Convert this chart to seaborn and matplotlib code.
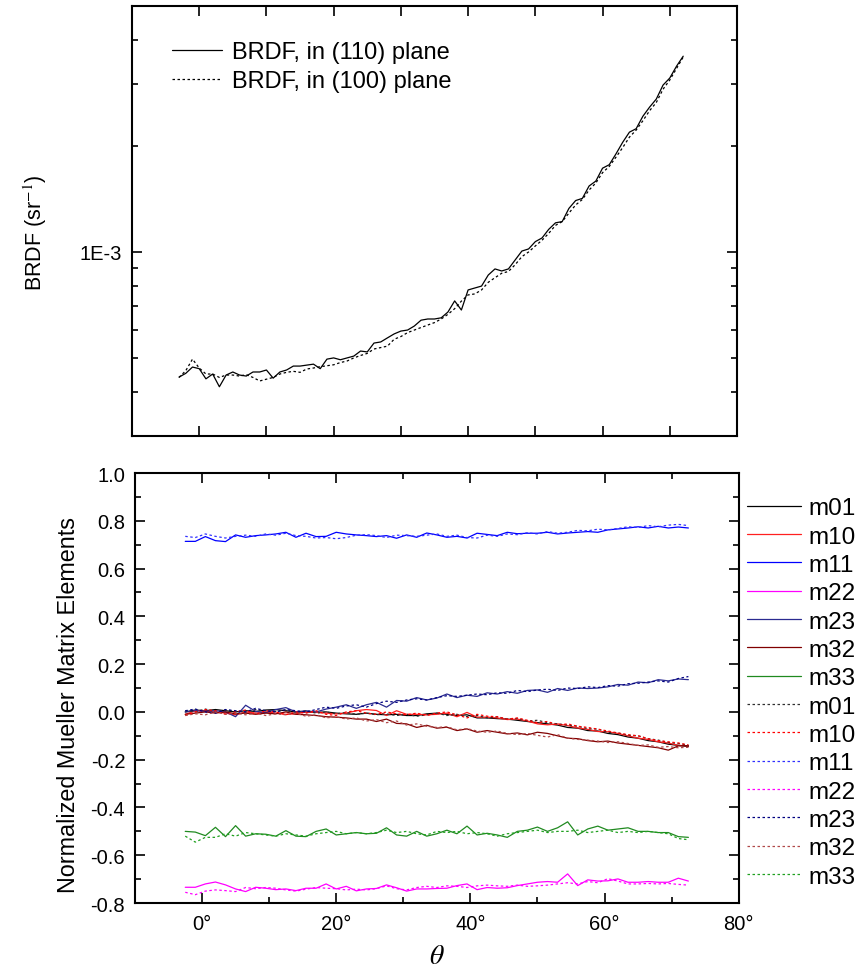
import numpy as np
import matplotlib
matplotlib.use("Agg")
import matplotlib.pyplot as plt
import matplotlib.ticker as mticker
import seaborn as sns

# BRDF (top panel), angle in degrees, values in units of 1E-3 sr^-1
theta_brdf = np.arange(-3, 73, 1)
brdf_110 = np.array([
    0.441, 0.452, 0.471, 0.466, 0.436, 0.450, 0.414, 0.447, 0.456, 0.447,
    0.444, 0.456, 0.456, 0.462, 0.438, 0.456, 0.462, 0.474, 0.474, 0.477,
    0.480, 0.466, 0.496, 0.500, 0.494, 0.500, 0.506, 0.523, 0.520, 0.551,
    0.555, 0.570, 0.585, 0.596, 0.600, 0.616, 0.640, 0.645, 0.645, 0.650,
    0.675, 0.726, 0.684, 0.780, 0.790, 0.800, 0.860, 0.895, 0.883, 0.895,
    0.949, 1.006, 1.020, 1.070, 1.096, 1.160, 1.210, 1.220, 1.330, 1.400,
    1.420, 1.540, 1.590, 1.730, 1.770, 1.900, 2.050, 2.190, 2.240, 2.430,
    2.580, 2.720, 2.980, 3.120, 3.370, 3.600]) * 1e-3
brdf_100 = np.array([
    0.440, 0.460, 0.496, 0.468, 0.450, 0.450, 0.440, 0.447, 0.447, 0.444,
    0.448, 0.440, 0.430, 0.435, 0.440, 0.450, 0.455, 0.458, 0.455, 0.465,
    0.468, 0.472, 0.475, 0.478, 0.485, 0.490, 0.500, 0.508, 0.515, 0.530,
    0.535, 0.540, 0.565, 0.575, 0.590, 0.600, 0.610, 0.620, 0.630, 0.645,
    0.665, 0.690, 0.725, 0.755, 0.760, 0.780, 0.820, 0.845, 0.870, 0.880,
    0.920, 0.970, 1.000, 1.040, 1.080, 1.130, 1.190, 1.220, 1.290, 1.360,
    1.410, 1.500, 1.570, 1.680, 1.750, 1.860, 1.980, 2.120, 2.220, 2.360,
    2.520, 2.660, 2.900, 3.080, 3.320, 3.580]) * 1e-3

# Normalized Mueller matrix elements (bottom panel)
theta_mm = np.arange(-2.5, 73.0, 1.5)
elements = ["m01", "m10", "m11", "m22", "m23", "m32", "m33"]

# solid lines: (110) plane
m01_a = [0.0, 0.008, 0.005, 0.01, 0.005, 0.0, 0.005, 0.002, 0.008, 0.01,
         0.005, 0.0, 0.0, -0.002, 0.0, -0.005, -0.008, -0.01, -0.005, -0.01,
         -0.012, -0.01, -0.015, -0.015, -0.008, -0.005, -0.01, -0.015, -0.012, -0.025,
         -0.025, -0.028, -0.03, -0.035, -0.04, -0.045, -0.05, -0.055, -0.065, -0.068,
         -0.078, -0.08, -0.09, -0.095, -0.105, -0.11, -0.12, -0.125, -0.135, -0.14, -0.145]
m10_a = [-0.01, 0.005, 0.004, 0.0, -0.005, -0.012, 0.0, -0.005, 0.0, -0.005,
         -0.01, -0.008, 0.0, -0.002, -0.005, -0.008, -0.005, 0.005, 0.01, 0.006,
         -0.015, 0.005, -0.01, -0.01, -0.012, -0.01, -0.005, -0.02, -0.002, -0.022,
         -0.022, -0.025, -0.032, -0.03, -0.038, -0.05, -0.054, -0.05, -0.057, -0.067,
         -0.073, -0.082, -0.083, -0.09, -0.1, -0.11, -0.115, -0.125, -0.13, -0.14, -0.142]
m11_a = [0.714, 0.714, 0.734, 0.717, 0.713, 0.741, 0.731, 0.738, 0.741, 0.745,
         0.752, 0.731, 0.748, 0.734, 0.735, 0.752, 0.745, 0.741, 0.738, 0.734,
         0.738, 0.727, 0.741, 0.731, 0.749, 0.741, 0.731, 0.735, 0.728, 0.748,
         0.743, 0.738, 0.752, 0.746, 0.748, 0.748, 0.752, 0.745, 0.749, 0.752,
         0.755, 0.752, 0.762, 0.766, 0.770, 0.775, 0.770, 0.777, 0.770, 0.774, 0.770]
m22_a = [-0.734, -0.734, -0.72, -0.712, -0.724, -0.741, -0.752, -0.734, -0.738, -0.744,
         -0.741, -0.748, -0.738, -0.738, -0.72, -0.741, -0.73, -0.749, -0.741, -0.739,
         -0.724, -0.736, -0.75, -0.741, -0.741, -0.739, -0.738, -0.727, -0.72, -0.744,
         -0.735, -0.738, -0.736, -0.727, -0.72, -0.713, -0.71, -0.713, -0.678, -0.727,
         -0.703, -0.708, -0.707, -0.699, -0.713, -0.713, -0.71, -0.713, -0.713, -0.696, -0.708]
m23_a = [0.0, 0.005, 0.003, 0.005, 0.0, -0.02, 0.028, 0.002, -0.003, 0.01,
         0.018, 0.0, 0.005, 0.0, 0.012, 0.02, 0.03, 0.015, 0.03, 0.04,
         0.02, 0.048, 0.045, 0.06, 0.05, 0.058, 0.075, 0.06, 0.07, 0.065,
         0.08, 0.075, 0.085, 0.078, 0.09, 0.092, 0.082, 0.098, 0.09, 0.1,
         0.098, 0.1, 0.105, 0.115, 0.112, 0.125, 0.122, 0.135, 0.13, 0.138, 0.135]
m32_a = [-0.01, -0.005, 0.0, -0.005, 0.0, -0.008, -0.005, -0.01, -0.005, -0.008,
         0.0, -0.01, -0.012, -0.015, -0.02, -0.022, -0.025, -0.03, -0.03, -0.04,
         -0.03, -0.048, -0.05, -0.065, -0.056, -0.068, -0.064, -0.078, -0.071, -0.085,
         -0.078, -0.085, -0.092, -0.088, -0.096, -0.085, -0.09, -0.1, -0.11, -0.112,
         -0.12, -0.125, -0.122, -0.13, -0.135, -0.14, -0.145, -0.15, -0.16, -0.142, -0.141]
m33_a = [-0.50, -0.503, -0.518, -0.483, -0.522, -0.476, -0.52, -0.51, -0.512, -0.52,
         -0.497, -0.52, -0.522, -0.50, -0.49, -0.515, -0.51, -0.505, -0.51, -0.508,
         -0.485, -0.515, -0.52, -0.50, -0.52, -0.51, -0.495, -0.51, -0.478, -0.515,
         -0.508, -0.515, -0.525, -0.50, -0.495, -0.482, -0.50, -0.485, -0.46, -0.515,
         -0.49, -0.478, -0.495, -0.49, -0.485, -0.50, -0.50, -0.505, -0.505, -0.522, -0.525]

# dotted lines: (100) plane
m01_b = [0.005, 0.0, 0.012, 0.0, 0.008, 0.003, 0.0, 0.01, 0.005, 0.002,
         0.008, -0.002, 0.005, -0.005, 0.0, -0.008, -0.002, -0.01, -0.005, -0.012,
         -0.008, -0.015, -0.01, -0.018, -0.012, -0.005, -0.015, -0.01, -0.02, -0.015,
         -0.025, -0.02, -0.03, -0.028, -0.038, -0.035, -0.045, -0.05, -0.055, -0.06,
         -0.07, -0.072, -0.085, -0.088, -0.098, -0.1, -0.112, -0.118, -0.128, -0.132, -0.14]
m10_b = [-0.015, 0.0, 0.01, 0.005, -0.01, 0.0, 0.008, -0.01, 0.005, 0.0,
         -0.012, 0.0, -0.005, 0.005, -0.01, -0.015, 0.0, 0.005, -0.005, -0.01,
         0.0, -0.008, -0.012, -0.005, -0.015, -0.005, 0.0, -0.012, -0.025, -0.01,
         -0.018, -0.02, -0.03, -0.025, -0.035, -0.045, -0.04, -0.055, -0.05, -0.06,
         -0.065, -0.072, -0.08, -0.088, -0.095, -0.1, -0.112, -0.12, -0.125, -0.13, -0.138]
m11_b = [0.735, 0.73, 0.745, 0.735, 0.728, 0.735, 0.74, 0.735, 0.745, 0.74,
         0.748, 0.738, 0.735, 0.728, 0.73, 0.725, 0.73, 0.74, 0.742, 0.738,
         0.73, 0.74, 0.738, 0.735, 0.74, 0.745, 0.735, 0.74, 0.73, 0.728,
         0.74, 0.735, 0.745, 0.742, 0.75, 0.745, 0.755, 0.748, 0.752, 0.76,
         0.758, 0.765, 0.762, 0.768, 0.775, 0.772, 0.78, 0.775, 0.782, 0.785, 0.78]
m22_b = [-0.755, -0.765, -0.75, -0.745, -0.748, -0.752, -0.735, -0.74, -0.735, -0.738,
         -0.745, -0.75, -0.742, -0.735, -0.738, -0.74, -0.745, -0.742, -0.745, -0.74,
         -0.728, -0.74, -0.745, -0.735, -0.73, -0.735, -0.728, -0.73, -0.735, -0.728,
         -0.725, -0.728, -0.73, -0.725, -0.73, -0.728, -0.725, -0.72, -0.715, -0.72,
         -0.71, -0.715, -0.698, -0.708, -0.72, -0.72, -0.718, -0.72, -0.718, -0.722, -0.725]
m23_b = [0.005, 0.012, 0.0, -0.005, 0.01, 0.005, 0.0, 0.015, 0.005, 0.0,
         0.01, 0.005, 0.0, 0.01, 0.02, 0.015, 0.025, 0.03, 0.02, 0.035,
         0.045, 0.04, 0.05, 0.055, 0.05, 0.06, 0.068, 0.065, 0.07, 0.075,
         0.072, 0.08, 0.078, 0.09, 0.085, 0.092, 0.095, 0.09, 0.1, 0.098,
         0.105, 0.102, 0.11, 0.108, 0.118, 0.12, 0.125, 0.13, 0.125, 0.14, 0.148]
m32_b = [-0.015, -0.008, -0.012, 0.0, -0.01, -0.005, -0.012, -0.005, -0.015, -0.008,
         -0.012, -0.005, -0.018, -0.012, -0.025, -0.02, -0.03, -0.025, -0.038, -0.032,
         -0.045, -0.038, -0.055, -0.05, -0.06, -0.065, -0.062, -0.075, -0.07, -0.08,
         -0.085, -0.08, -0.09, -0.095, -0.09, -0.098, -0.105, -0.095, -0.11, -0.115,
         -0.118, -0.122, -0.128, -0.125, -0.132, -0.14, -0.138, -0.148, -0.145, -0.15, -0.148]
m33_b = [-0.52, -0.545, -0.525, -0.525, -0.51, -0.52, -0.505, -0.51, -0.515, -0.52,
         -0.51, -0.515, -0.52, -0.51, -0.505, -0.50, -0.51, -0.505, -0.51, -0.505,
         -0.495, -0.505, -0.50, -0.51, -0.515, -0.50, -0.505, -0.50, -0.51, -0.505,
         -0.51, -0.52, -0.51, -0.505, -0.50, -0.495, -0.505, -0.50, -0.50, -0.495,
         -0.505, -0.50, -0.495, -0.505, -0.50, -0.505, -0.50, -0.505, -0.51, -0.53, -0.535]

solid_vals = [m01_a, m10_a, m11_a, m22_a, m23_a, m32_a, m33_a]
dotted_vals = [m01_b, m10_b, m11_b, m22_b, m23_b, m32_b, m33_b]
solid_colors = ["#000000", "#ff2020", "#0000ff", "#ff00ff", "#2a2a90", "#800000", "#208a20"]
dotted_colors = ["#303030", "#ff0000", "#3030ff", "#ff00ff", "#000080", "#b04848", "#20a020"]

sns.set_style("ticks")
plt.rcParams["font.family"] = ["Liberation Sans", "DejaVu Sans"]
plt.rcParams["mathtext.fontset"] = "stix"
for key in ("text.color", "axes.labelcolor", "xtick.color", "ytick.color", "axes.edgecolor"):
    plt.rcParams[key] = "black"
plt.rcParams["xtick.direction"] = "in"
plt.rcParams["ytick.direction"] = "in"

fig = plt.figure(figsize=(8.65, 9.7), dpi=100)
ax1 = fig.add_axes([0.1526, 0.5495, 0.6994, 0.4433])
ax2 = fig.add_axes([0.156, 0.068, 0.698, 0.4433])

DOT = (0, (2, 2))

# --- top panel: BRDF ---
sns.lineplot(x=theta_brdf, y=brdf_110, ax=ax1, color="black", lw=0.9,
             label="BRDF, in (110) plane", errorbar=None)
sns.lineplot(x=theta_brdf, y=brdf_100, ax=ax1, color="black", lw=0.9,
             linestyle=DOT, label="BRDF, in (100) plane", errorbar=None)
ax1.set_yscale("log")
ax1.set_xlim(-10, 80)
ax1.set_ylim(3e-4, 5e-3)
ax1.yaxis.set_major_locator(mticker.FixedLocator([1e-3]))
ax1.yaxis.set_major_formatter(mticker.FixedFormatter(["1E-3"]))
ax1.yaxis.set_minor_locator(mticker.FixedLocator(
    [4e-4, 5e-4, 6e-4, 7e-4, 8e-4, 9e-4, 2e-3, 3e-3, 4e-3]))
ax1.yaxis.set_minor_formatter(mticker.NullFormatter())
ax1.xaxis.set_major_locator(mticker.MultipleLocator(10))
ax1.tick_params(axis="x", labelbottom=False)
ax1.set_ylabel("BRDF (sr$^{-1}$)", fontsize=15.5)
ax1.yaxis.set_label_coords(-0.137, 0.474)
ax1.legend(loc="upper left", bbox_to_anchor=(0.031, 0.967), frameon=False,
           fontsize=17, handlelength=2.1, handletextpad=0.42, labelspacing=0.27)

# --- bottom panel: Mueller matrix elements ---
for name, vals, col in zip(elements, solid_vals, solid_colors):
    sns.lineplot(x=theta_mm, y=vals, ax=ax2, color=col, lw=0.9, label=name,
                 errorbar=None)
for name, vals, col in zip(elements, dotted_vals, dotted_colors):
    sns.lineplot(x=theta_mm, y=vals, ax=ax2, color=col, lw=0.9, linestyle=DOT,
                 label=name, errorbar=None)
ax2.set_xlim(-10, 80)
ax2.set_ylim(-0.8, 1.0)
ax2.xaxis.set_major_locator(mticker.MultipleLocator(20))
ax2.xaxis.set_minor_locator(mticker.MultipleLocator(10))
ax2.xaxis.set_major_formatter(mticker.FuncFormatter(lambda v, p: f"{v:.0f}°"))
ax2.yaxis.set_major_locator(mticker.MultipleLocator(0.2))
ax2.yaxis.set_minor_locator(mticker.MultipleLocator(0.1))
ax2.yaxis.set_major_formatter(mticker.FuncFormatter(lambda v, p: f"{v:.1f}"))
ax2.set_ylabel("Normalized Mueller Matrix Elements", fontsize=16.8)
ax2.yaxis.set_label_coords(-0.091, 0.463)
ax2.set_xlabel(r"$\theta$", fontsize=20, labelpad=7)
ax2.legend(loc="center left", bbox_to_anchor=(1.0, 0.49), frameon=False,
           fontsize=17.5, handlelength=2.2, handletextpad=0.3, labelspacing=0.26,
           borderaxespad=0.0, borderpad=0.35)

for ax in (ax1, ax2):
    for sp in ax.spines.values():
        sp.set_visible(True)
        sp.set_linewidth(1.5)
        sp.set_color("black")
    ax.tick_params(which="both", top=True, right=True, direction="in",
                   width=1.2, labelsize=14.5, colors="black", pad=7)
    ax.tick_params(which="major", length=7)
    ax.tick_params(which="minor", length=4)
ax2.tick_params(axis="x", pad=8)

fig.savefig("out.png", dpi=100)
